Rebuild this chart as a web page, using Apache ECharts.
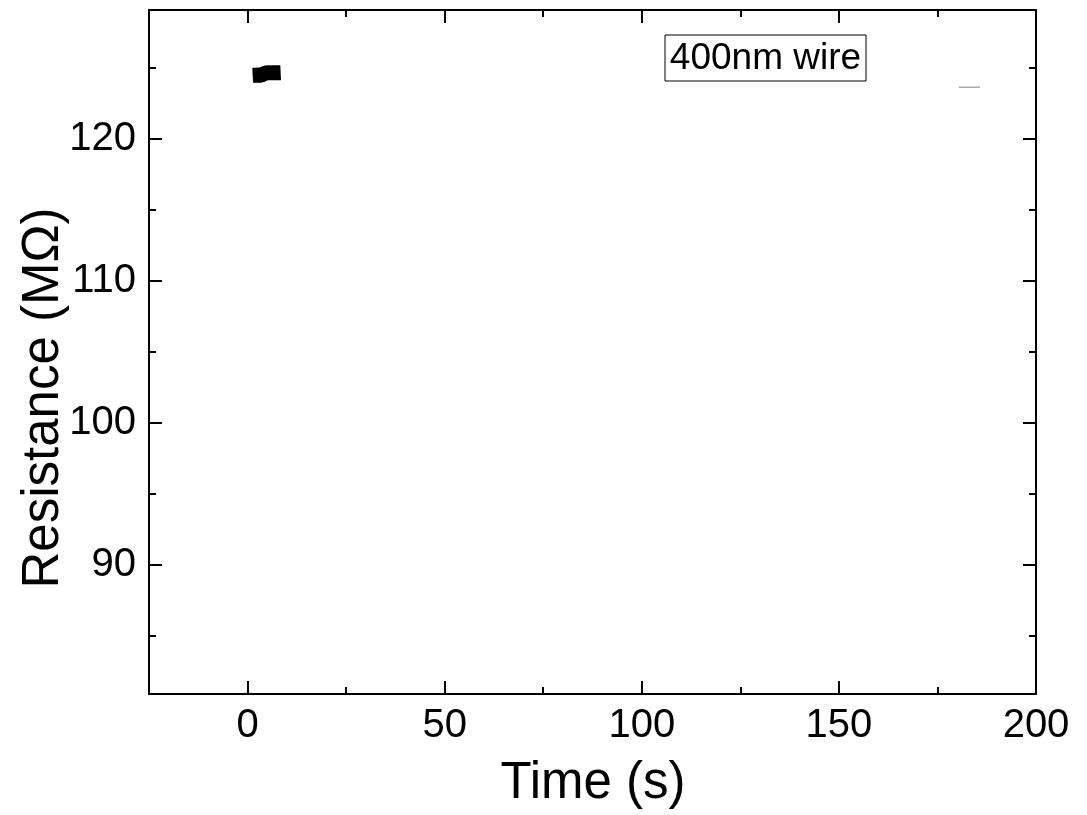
<!DOCTYPE html>
<html>
<head>
<meta charset="utf-8">
<script src="https://cdn.jsdelivr.net/npm/echarts@6/dist/echarts.min.js"></script>
<style>html,body{margin:0;padding:0;background:#fff}#c{width:1087px;height:815px}</style>
</head>
<body>
<div id="c"></div>
<script>
// Data
const timeMain = [1.3, 2.0, 2.8, 3.5, 3.9, 4.6, 5.3, 6.0, 6.8, 7.6, 8.4];
const resMain  = [124.50, 124.51, 124.52, 124.51, 124.64, 124.67, 124.68, 124.67, 124.68, 124.67, 124.68];
const timeTail = [180.4, 183.0, 185.8];
const resTail  = [123.66, 123.66, 123.66];
const xMajor = [0, 50, 100, 150, 200];
const xMinor = [-25, 25, 75, 125, 175];
const yMajor = [90, 100, 110, 120];
const yMinor = [85, 95, 105, 115, 125];
const xRange = [-25, 200];
const yRange = [80.9, 129.1];
const boxLabel = '400nm wire';
const xName = 'Time (s)';
const yName = 'Resistance (MΩ)';

const FONT = 'Liberation Sans, Arial, sans-serif';
const chart = echarts.init(document.getElementById('c'));

function xAx(pos, ticks, len, labels, line) {
  return {
    type: 'value', position: pos, min: xRange[0], max: xRange[1],
    axisLine: { show: line, onZero: false, lineStyle: { color: '#000', width: 2 } },
    axisTick: { show: true, inside: true, length: len, customValues: ticks, lineStyle: { color: '#000', width: 2 } },
    axisLabel: labels ? { show: true, customValues: xMajor, fontSize: 40, color: '#000', fontFamily: FONT, margin: 12 } : { show: false },
    splitLine: { show: false }
  };
}
function yAx(pos, ticks, len, labels, line) {
  return {
    type: 'value', position: pos, min: yRange[0], max: yRange[1],
    axisLine: { show: line, onZero: false, lineStyle: { color: '#000', width: 2 } },
    axisTick: { show: true, inside: true, length: len, customValues: ticks, lineStyle: { color: '#000', width: 2 } },
    axisLabel: labels ? { show: true, customValues: yMajor, fontSize: 40, color: '#000', fontFamily: FONT, margin: 13 } : { show: false },
    splitLine: { show: false }
  };
}

const xs = [];
for (let i = 0; i < timeMain.length; i++) xs.push([timeMain[i], resMain[i]]);
const ts = [];
for (let i = 0; i < timeTail.length; i++) ts.push([timeTail[i], resTail[i]]);

chart.setOption({
  animation: false,
  backgroundColor: '#fff',
  grid: { left: 149, right: 51, top: 10, bottom: 121, containLabel: false },
  xAxis: [
    xAx('bottom', xMajor, 13, true, true),
    xAx('bottom', xMinor, 7, false, false),
    xAx('top', xMajor, 13, false, true),
    xAx('top', xMinor, 7, false, false)
  ],
  yAxis: [
    yAx('left', yMajor, 13, true, true),
    yAx('left', yMinor, 7, false, false),
    yAx('right', yMajor, 13, false, true),
    yAx('right', yMinor, 7, false, false)
  ],
  series: [
    { type: 'line', data: xs, showSymbol: false, symbol: 'none', lineStyle: { color: '#000', width: 15 }, xAxisIndex: 0, yAxisIndex: 0 },
    { type: 'line', data: ts, showSymbol: false, symbol: 'none', lineStyle: { color: '#aaa', width: 1.5 }, xAxisIndex: 0, yAxisIndex: 0 }
  ],
  graphic: [
    { type: 'text', x: 593, y: 784, style: { text: xName, fontSize: 51, fill: '#000', fontFamily: FONT, align: 'center', verticalAlign: 'middle' } },
    { type: 'text', x: 44, y: 398, rotation: Math.PI / 2, style: { text: yName, fontSize: 51, fill: '#000', fontFamily: FONT, align: 'center', verticalAlign: 'middle' } },
    { type: 'rect', shape: { x: 665, y: 35, width: 201, height: 46 }, style: { fill: '#fff', stroke: '#000', lineWidth: 1 } },
    { type: 'text', style: { text: boxLabel, x: 765.5, y: 59, fontSize: 37, fill: '#000', fontFamily: FONT, align: 'center', verticalAlign: 'middle' } }
  ]
});
</script>
</body>
</html>
